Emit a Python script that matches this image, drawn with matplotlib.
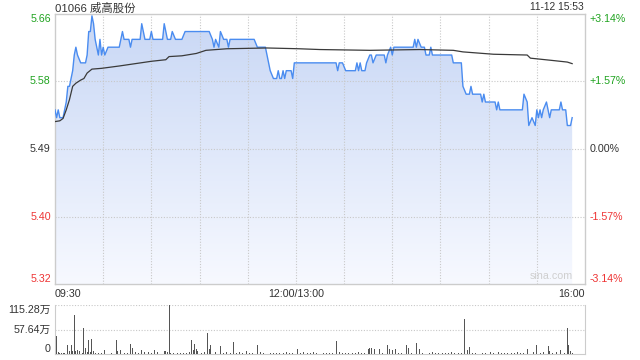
import matplotlib
matplotlib.use("Agg")
import matplotlib.pyplot as plt
import numpy as np

plt.rcParams["font.family"] = ["Liberation Sans", "Noto Sans CJK SC", "DejaVu Sans"]

# Header texts
TITLE = "01066 威高股份"
STAMP = "11-12 15:53"

# Price scale
PREV_CLOSE = 5.49
PCT_LEVELS = [3.14, 1.57, 0.0, -1.57, -3.14]
PRICE_LABELS = ["5.66", "5.58", "5.49", "5.40", "5.32"]
PCT_LABELS = ["+3.14%", "+1.57%", "0.00%", "-1.57%", "-3.14%"]

# Session minutes: 0 = 09:30, 150 = 12:00/13:00, 330 = 16:00
TIME_TICKS = [0, 150, 330]
TIME_LABELS = ["09:30", "12:00/13:00", "16:00"]

# Last price (minute index, HKD)
PRICE_MIN = [0, 1, 2, 3, 5, 6, 7, 8, 9, 10, 11, 12, 13, 14, 16, 19, 20, 21, 22, 23,
             24, 25, 26, 27, 28, 29, 30, 31, 33, 40, 41, 42, 43, 46, 47, 48, 53, 54, 55, 56,
             59, 60, 61, 67, 68, 70, 72, 73, 75, 79, 81, 96, 98, 99, 100, 102, 103, 105, 107, 108,
             109, 124, 126, 131, 132, 133, 134, 136, 138, 139, 140, 141, 142, 143, 144, 147, 148, 149, 175, 176,
             177, 179, 181, 187, 188, 189, 190, 191, 193, 194, 196, 197, 198, 200, 205, 206, 207, 209, 210, 211,
             223, 224, 225, 226, 228, 230, 231, 233, 234, 235, 247, 248, 253, 254, 256, 258, 259, 260, 265, 266,
             267, 268, 274, 275, 276, 277, 291, 292, 294, 295, 297, 299, 300, 301, 302, 303, 304, 306, 308, 309,
             314, 315, 316, 318, 319, 321, 322]
PRICE = [5.54, 5.53, 5.54, 5.53, 5.53, 5.54, 5.55, 5.57, 5.57, 5.58, 5.59, 5.61, 5.62, 5.61, 5.60, 5.60, 5.61, 5.64, 5.64, 5.66,
         5.65, 5.63, 5.62, 5.61, 5.63, 5.61, 5.62, 5.61, 5.62, 5.62, 5.63, 5.64, 5.63, 5.63, 5.62, 5.63, 5.63, 5.65, 5.64, 5.63,
         5.63, 5.64, 5.63, 5.63, 5.65, 5.63, 5.63, 5.64, 5.63, 5.63, 5.64, 5.64, 5.63, 5.62, 5.63, 5.62, 5.64, 5.63, 5.63, 5.62,
         5.63, 5.63, 5.62, 5.62, 5.61, 5.60, 5.59, 5.58, 5.58, 5.59, 5.58, 5.58, 5.59, 5.58, 5.59, 5.59, 5.58, 5.60, 5.60, 5.59,
         5.60, 5.60, 5.59, 5.59, 5.60, 5.59, 5.60, 5.59, 5.59, 5.60, 5.61, 5.61, 5.60, 5.61, 5.61, 5.60, 5.61, 5.62, 5.61, 5.62,
         5.62, 5.63, 5.62, 5.63, 5.62, 5.62, 5.61, 5.61, 5.62, 5.61, 5.61, 5.60, 5.60, 5.57, 5.56, 5.56, 5.57, 5.56, 5.56, 5.55,
         5.56, 5.55, 5.55, 5.54, 5.55, 5.54, 5.54, 5.56, 5.55, 5.52, 5.53, 5.52, 5.54, 5.53, 5.54, 5.53, 5.54, 5.55, 5.53, 5.54,
         5.54, 5.55, 5.54, 5.54, 5.52, 5.52, 5.53]

# Average price
AVG_MIN = [0, 3, 5, 7, 9, 11, 13, 16, 18, 20, 23, 29, 40, 60, 69, 71, 79, 88, 94, 107,
           132, 152, 165, 196, 227, 248, 254, 273, 294, 296, 310, 319, 322]
AVG = [5.525, 5.526, 5.529, 5.540, 5.553, 5.570, 5.574, 5.578, 5.580, 5.587, 5.592, 5.593, 5.596, 5.602, 5.604,
       5.608, 5.609, 5.612, 5.616, 5.618, 5.619, 5.618, 5.617, 5.616, 5.617, 5.616, 5.614, 5.611, 5.610, 5.606,
       5.603, 5.601, 5.599]

# Volume (minute index, 10k shares)
VOL_MAX = 115.28
VOL_LABELS = ["115.28万", "57.64万", "0"]
VOL_MIN = [0, 1, 2, 3, 4, 5, 6, 8, 9, 10, 11, 12, 13, 14, 15, 17, 18, 19, 20, 21,
           22, 23, 24, 25, 27, 29, 31, 33, 35, 38, 39, 41, 43, 45, 47, 48, 50, 52, 54, 56,
           58, 60, 62, 64, 66, 68, 69, 70, 71, 72, 74, 76, 78, 80, 82, 84, 85, 86, 87, 88,
           89, 91, 93, 95, 96, 97, 99, 100, 103, 105, 107, 109, 111, 113, 115, 117, 119, 121, 123, 126,
           128, 130, 132, 134, 136, 138, 140, 142, 144, 146, 148, 151, 153, 155, 157, 159, 161, 163, 165, 167,
           169, 171, 173, 175, 177, 179, 181, 183, 185, 187, 189, 191, 193, 195, 196, 197, 199, 202, 204, 207,
           208, 210, 212, 214, 216, 219, 220, 222, 225, 227, 229, 231, 233, 235, 237, 239, 241, 243, 245, 247,
           249, 251, 253, 255, 257, 258, 260, 262, 264, 266, 268, 271, 273, 276, 278, 280, 282, 284, 286, 288,
           290, 292, 294, 297, 298, 300, 302, 304, 307, 308, 310, 312, 315, 317, 319, 320, 321, 322]
VOL = [8, 43, 4, 3, 2, 3, 2, 21, 6, 21, 8, 92, 8, 10, 6, 3, 62, 15, 4, 34,
       5, 35, 6, 3, 2, 2, 9, 9, 3, 33, 8, 9, 2, 3, 24, 13, 5, 2, 10, 4,
       5, 2, 10, 5, 2, 8, 8, 5, 115.28, 3, 2, 3, 2, 3, 2, 5, 33, 10, 23, 12,
       8, 3, 4, 49, 12, 20, 22, 4, 19, 3, 4, 3, 28, 3, 4, 3, 7, 2, 3, 21,
       4, 3, 6, 3, 2, 3, 2, 3, 4, 2, 3, 12, 3, 5, 3, 2, 4, 3, 9, 3,
       2, 3, 2, 31, 5, 3, 2, 3, 2, 3, 4, 2, 3, 12, 15, 15, 12, 12, 3, 21,
       11, 9, 12, 3, 2, 21, 15, 3, 25, 11, 3, 2, 3, 4, 2, 3, 2, 3, 2, 4,
       3, 2, 3, 82, 9, 16, 3, 2, 4, 3, 2, 5, 3, 4, 2, 3, 2, 3, 2, 4,
       2, 3, 11, 89, 5, 21, 3, 4, 19, 7, 3, 4, 9, 3, 60, 21, 6, 3]

GREEN = "#1fa31f"
RED = "#ee3333"
DARK = "#333333"
GRID = "#c8c8c8"
BLUE = "#4a8cf0"

levels = [PREV_CLOSE * (1 + p / 100.0) for p in PCT_LEVELS]
ymax, ymin = levels[0], levels[-1]
label_colors = [GREEN, GREEN, DARK, RED, RED]
label_va = ["top", "center", "center", "center", "bottom"]

fig = plt.figure(figsize=(6.4, 3.6), dpi=100)
ax = fig.add_axes([55 / 640, 1 - 284 / 360, 530 / 640, 270 / 360])
vax = fig.add_axes([55 / 640, 1 - 354 / 360, 530 / 640, 49 / 360])

# Gradient area under the price line
poly = ax.fill_between(PRICE_MIN, PRICE, ymin, color="none", lw=0)
top_c = np.array([200, 215, 245]) / 255.0
bot_c = np.array([247, 249, 255]) / 255.0
t = np.linspace(0, 1, 256).reshape(-1, 1, 1)
grad = top_c * (1 - t) + bot_c * t
img = ax.imshow(grad, extent=[0, 330, ymin, ymax], aspect="auto", origin="upper", zorder=1)
img.set_clip_path(poly.get_paths()[0], transform=ax.transData)

ax.plot(PRICE_MIN, PRICE, color=BLUE, lw=1.0, zorder=3)
ax.plot(AVG_MIN, AVG, color="#3a3a3a", lw=0.9, zorder=4)

# Grid
for lv in levels[1:-1]:
    ax.axhline(lv, color=GRID, lw=0.8, ls=(0, (1, 1.5)), zorder=2)
for m in range(30, 330, 30):
    ax.axvline(m, color=GRID, lw=0.8, ls=(0, (1, 1.5)), zorder=2)

ax.set_xlim(0, 330)
ax.set_ylim(ymin, ymax)
ax.set_xticks([])
ax.set_yticks([])
for s in ax.spines.values():
    s.set_color("#cccccc")
    s.set_linewidth(1.0)

# Price / percent labels
for lv, pl, cl, col, va in zip(levels, PRICE_LABELS, PCT_LABELS, label_colors, label_va):
    ax.text(-0.008, lv, pl, transform=ax.get_yaxis_transform(), ha="right", va=va,
            color=col, fontsize=7.7)
    ax.text(1.008, lv, cl, transform=ax.get_yaxis_transform(), ha="left", va=va,
            color=col, fontsize=7.7)

# Time labels
for m, lab, ha in zip(TIME_TICKS, TIME_LABELS, ["left", "center", "right"]):
    ax.text(m, -0.02, lab, transform=ax.get_xaxis_transform(), ha=ha, va="top",
            color=DARK, fontsize=7.7)

# Header
fig.text(55 / 640, 1 - 8 / 360, TITLE, ha="left", va="center", color=DARK, fontsize=8.2)
fig.text(584 / 640, 1 - 7.5 / 360, STAMP, ha="right", va="center", color=DARK, fontsize=7.4)
ax.text(322.5, ymin + 0.004, "sina.com", ha="right", va="bottom", color="#cfcfcf", fontsize=7.7, zorder=5)

# Volume panel
vax.bar(VOL_MIN, VOL, width=0.6, color="#555555", zorder=3)
vax.set_xlim(0, 330)
vax.set_ylim(0, VOL_MAX)
vax.set_xticks([])
vax.set_yticks([])
vax.axhline(VOL_MAX, color=GRID, lw=0.8, ls=(0, (1, 1.5)), zorder=2)
vax.axhline(VOL_MAX / 2, color=GRID, lw=0.8, ls=(0, (1, 1.5)), zorder=2)
vax.spines["top"].set_visible(False)
for k in ["left", "right", "bottom"]:
    vax.spines[k].set_color("#cccccc")
for v, lab, va in zip([VOL_MAX, VOL_MAX / 2, 0], VOL_LABELS, ["top", "center", "bottom"]):
    vax.text(-0.008, v, lab, transform=vax.get_yaxis_transform(), ha="right", va=va,
             color=DARK, fontsize=7.7)

fig.savefig("out.png", dpi=100)
